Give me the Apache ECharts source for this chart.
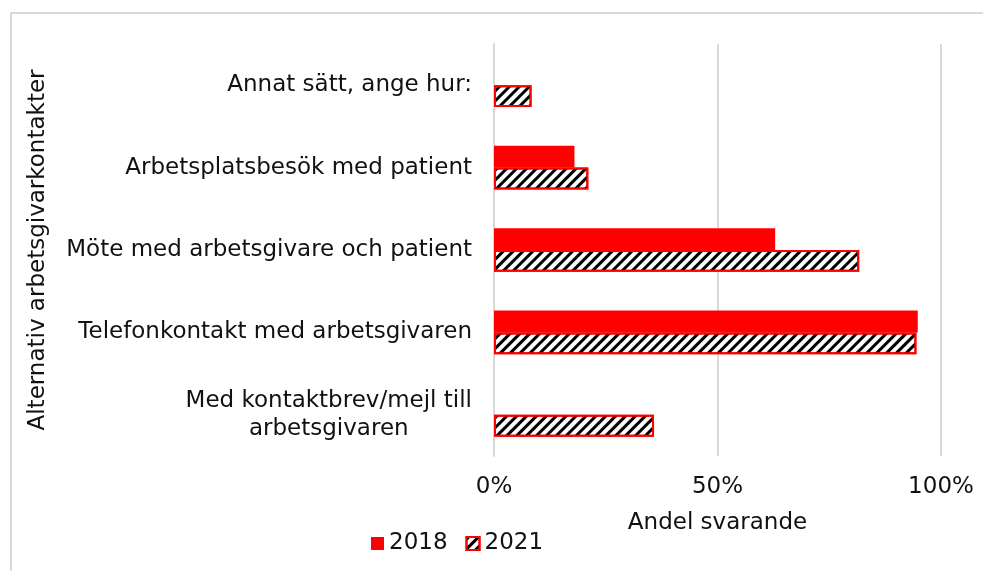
<!DOCTYPE html>
<html>
<head>
<meta charset="utf-8">
<script src="https://cdn.jsdelivr.net/npm/echarts@6/dist/echarts.min.js"></script>
<style>
  html, body { margin: 0; padding: 0; background: #fff; }
  #chart { width: 983px; height: 571px; }
</style>
</head>
<body>
<div id="chart"></div>
<script>
var categories = [
  'Annat sätt, ange hur:',
  'Arbetsplatsbesök med patient',
  'Möte med arbetsgivare och patient',
  'Telefonkontakt med arbetsgivaren',
  'Med kontaktbrev/mejl till\narbetsgivaren'
];
var values2018 = [0, 18.0, 62.9, 94.8, 0];
var values2021 = [8.4, 21.1, 81.7, 94.5, 35.8];
var seriesNames = ['2018', '2021'];
var xTicks = [0, 50, 100];

var fontFamily = '"DejaVu Sans", sans-serif';
var textColor = '#111111';
var gridColor = '#d9d9d9';

var chartDom = document.getElementById('chart');
var myChart = echarts.init(chartDom);

var option = {
  animation: false,
  textStyle: { fontFamily: fontFamily },
  graphic: [
    {
      type: 'rect',
      shape: { x: 11, y: 13, width: 1200, height: 800 },
      style: { fill: 'none', stroke: gridColor, lineWidth: 2 },
      silent: true
    }
  ],
  grid: {
    left: 494,
    right: 42,
    top: 44,
    bottom: 115
  },
  legend: {
    data: seriesNames,
    left: 366,
    top: 527,
    icon: 'rect',
    itemWidth: 13,
    itemHeight: 13,
    itemGap: 18,
    textStyle: { fontSize: 23, color: textColor, fontFamily: fontFamily }
  },
  xAxis: {
    type: 'value',
    min: xTicks[0],
    max: xTicks[xTicks.length - 1],
    interval: xTicks[1] - xTicks[0],
    name: 'Andel svarande',
    nameLocation: 'middle',
    nameGap: 56,
    nameTextStyle: { fontSize: 23, color: textColor },
    axisLine: { show: false },
    axisTick: { show: false },
    axisLabel: {
      formatter: '{value}%',
      fontSize: 23,
      color: textColor,
      margin: 20
    },
    splitLine: { lineStyle: { color: gridColor, width: 2 } }
  },
  yAxis: {
    type: 'category',
    inverse: true,
    data: categories,
    name: 'Alternativ arbetsgivarkontakter',
    nameLocation: 'middle',
    nameGap: 444,
    nameTextStyle: { fontSize: 23, color: textColor },
    axisLine: { show: true, lineStyle: { color: gridColor, width: 2 } },
    axisTick: { show: false },
    axisLabel: {
      fontSize: 23,
      color: textColor,
      margin: 22,
      lineHeight: 28,
      formatter: function (v) {
        return v.split('\n').map(function (s) { return '{c|' + s + '}'; }).join('\n');
      },
      rich: {
        c: { fontSize: 23, color: textColor, align: 'center', lineHeight: 28, fontFamily: fontFamily }
      }
    }
  },
  series: [
    {
      name: seriesNames[0],
      type: 'bar',
      data: values2018,
      barGap: '0%',
      barCategoryGap: '47%',
      itemStyle: { color: '#ff0000' }
    },
    {
      name: seriesNames[1],
      type: 'bar',
      data: values2021,
      barGap: '0%',
      barCategoryGap: '47%',
      itemStyle: {
        color: '#ffffff',
        borderColor: '#ff0000',
        borderWidth: 2,
        decal: {
          symbol: 'rect',
          symbolSize: 1,
          color: '#000000',
          dashArrayX: [1, 0],
          dashArrayY: [3, 4],
          rotation: -Math.PI / 4
        }
      }
    }
  ]
};

option && myChart.setOption(option);
</script>
</body>
</html>
